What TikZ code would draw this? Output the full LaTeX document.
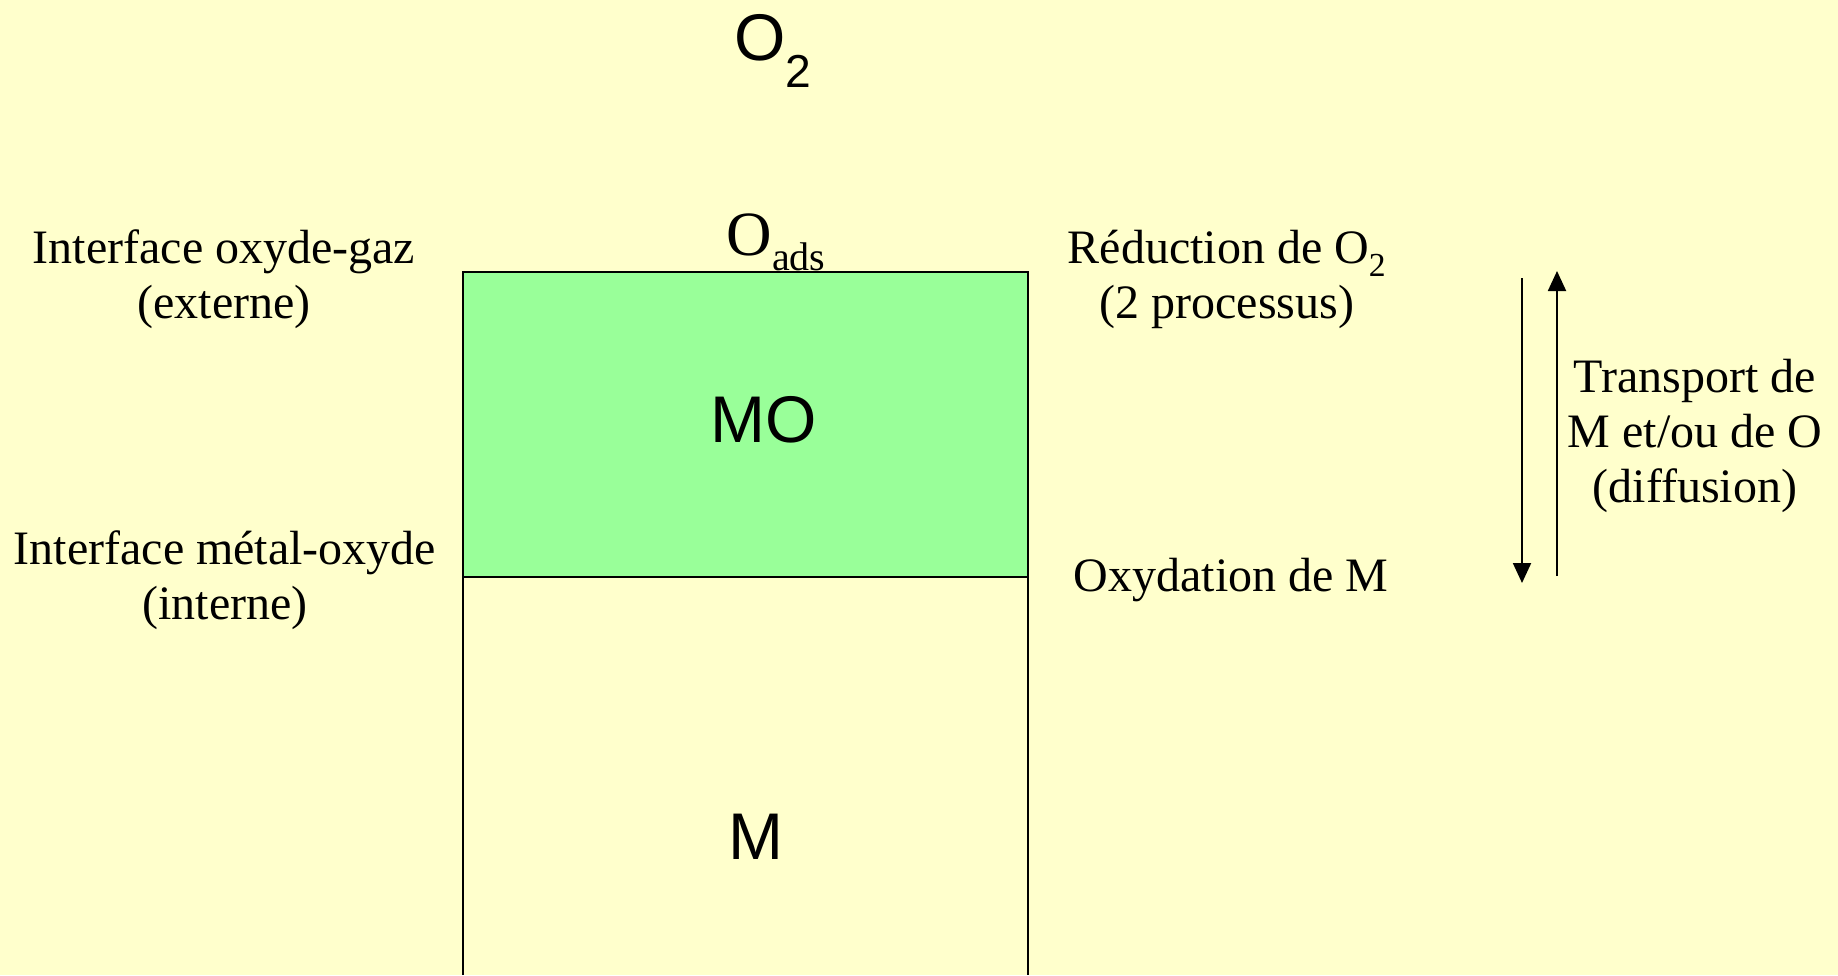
\documentclass[tikz,border=0pt]{standalone}
\usepackage{fontspec}
\setmainfont{Liberation Serif}
\setsansfont{Liberation Sans}
\usetikzlibrary{arrows.meta}
\definecolor{bgyellow}{HTML}{FFFFCC}
\definecolor{oxgreen}{HTML}{99FF99}
\begin{document}
\begin{tikzpicture}[x=1pt,y=-1pt,
  lbl/.style={font=\fontsize{48}{55}\selectfont, align=center, inner sep=0pt},
  big/.style={font=\sffamily\fontsize{66}{70}\selectfont, inner sep=0pt, anchor=base},
  layer/.style={line width=2pt, draw=black},
  flux/.style={line width=2pt, -{Triangle[length=20pt,width=18pt]}}]
\fill[bgyellow] (0,0) rectangle (1838,975);
\useasboundingbox (0,0) rectangle (1838,975);
% layers
\fill[oxgreen] (463,272) rectangle (1028,577);
\draw[layer] (463,975) -- (463,272) -- (1028,272) -- (1028,975);
\draw[layer] (463,577) -- (1028,577);
\node[big] (o2) at (773,60) {O\raisebox{-4pt}{\textsubscript{2}}};
\node[inner sep=0pt, anchor=base, font=\fontsize{63}{66}\selectfont] (oads) at (776,255) {O\raisebox{-15pt}{\fontsize{40}{44}\selectfont ads}};
\node[big] (mo) at (764,442) {MO};
\node[big] (m) at (756,859) {M};
% left labels (base anchor = last line baseline)
\node[lbl, anchor=base] (ext) at (224,318) {Interface oxyde-gaz\\(externe)};
\node[lbl, anchor=base] (int) at (225,619) {Interface métal-oxyde\\(interne)};
% right labels
\node[lbl, anchor=base] (red) at (1227,318) {Réduction de O\textsubscript{2}\\(2 processus)};
\node[lbl, anchor=base] (oxy) at (1231,591) {Oxydation de M};
\node[lbl, anchor=base] (tr) at (1695,502) {Transport de\\M et/ou de O\\(diffusion)};
% arrows
\coordinate (dA) at (1522,278);
\coordinate (dB) at (1522,583);
\coordinate (uA) at (1557,576);
\coordinate (uB) at (1557,271);
\draw[flux] (dA) -- (dB);
\draw[flux] (uA) -- (uB);
\end{tikzpicture}
\end{document}
